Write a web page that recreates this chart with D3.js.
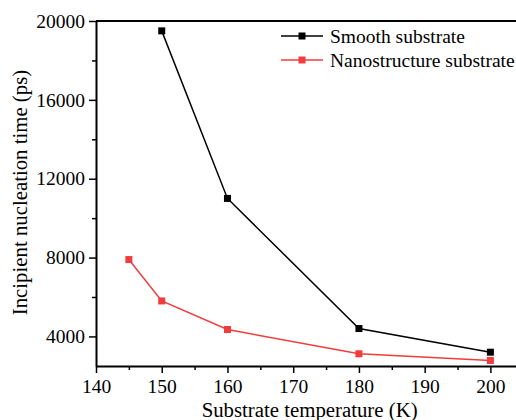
<!DOCTYPE html>
<html>
<head>
<meta charset="utf-8">
<script src="https://cdn.jsdelivr.net/npm/d3@7"></script>
<style>
  body { margin: 0; background: #fff; }
  svg { display: block; font-family: "Liberation Serif", "Times New Roman", serif; }
  .line { fill: none; stroke-width: 1.5; }
</style>
</head>
<body>
<div id="chart"></div>
<script>
// data
const smoothTemps = [150, 160, 180, 200];
const smoothTimes = [19500, 11000, 4400, 3200];
const nanoTemps = [145, 150, 160, 180, 200];
const nanoTimes = [7900, 5800, 4350, 3120, 2780];
const xTicks = [140, 150, 160, 170, 180, 190, 200];
const yTicks = [4000, 8000, 12000, 16000, 20000];
const seriesNames = ['Smooth substrate', 'Nanostructure substrate'];

const width = 516, height = 420;
const margin = { top: 21, right: -2, bottom: 54, left: 96 };
const graphWidth = width - margin.left - margin.right;
const graphHeight = height - margin.top - margin.bottom;

const svg = d3.select('#chart')
    .append('svg')
    .attr('width', width)
    .attr('height', height);

const chart = svg.append('g')
    .attr('transform', `translate(${margin.left}, ${margin.top})`);

// scales
const x = d3.scaleLinear()
    .domain([140, 204.2])
    .range([0, graphWidth]);

const y = d3.scaleLinear()
    .domain([2500, 20000])
    .range([graphHeight, 0]);

// minor ticks
const xMinor = d3.range(145, 205, 10);
const yMinor = d3.range(2000, 20000, 4000).filter(d => d >= 2500);

const xAxisGroup = chart.append('g')
    .attr('transform', `translate(0, ${graphHeight})`);
xAxisGroup.call(d3.axisBottom(x).tickValues(xTicks).tickSize(7).tickSizeOuter(0).tickPadding(6));
xAxisGroup.append('g')
    .call(d3.axisBottom(x).tickValues(xMinor).tickSize(4).tickFormat(''))
    .select('.domain').remove();

const yAxisGroup = chart.append('g');
yAxisGroup.call(d3.axisLeft(y).tickValues(yTicks).tickSize(7).tickSizeOuter(0).tickPadding(4).tickFormat(d3.format('d')));
yAxisGroup.append('g')
    .call(d3.axisLeft(y).tickValues(yMinor).tickSize(4).tickFormat(''))
    .select('.domain').remove();

// top border
chart.append('line')
    .attr('x1', 0).attr('x2', graphWidth)
    .attr('y1', 0).attr('y2', 0)
    .attr('stroke', '#000').attr('stroke-width', 2);

chart.selectAll('.domain').attr('stroke-width', 2);
chart.selectAll('.tick line').attr('stroke-width', 1.5);
chart.selectAll('.tick text')
    .attr('font-size', 19.5)
    .attr('font-family', '"Liberation Serif", serif')
    .attr('fill', '#000');

// axis titles
svg.append('text')
    .attr('x', margin.left + x(172.5))
    .attr('y', 417)
    .attr('text-anchor', 'middle')
    .attr('font-size', 20.8)
    .text('Substrate temperature (K)');

svg.append('text')
    .attr('transform', `translate(27, ${margin.top + y(11300)}) rotate(-90)`)
    .attr('text-anchor', 'middle')
    .attr('font-size', 20.8)
    .text('Incipient nucleation time (ps)');

// series
const series = [
    { name: seriesNames[0], color: '#000000', data: smoothTemps.map((t, i) => ({ t, v: smoothTimes[i] })) },
    { name: seriesNames[1], color: '#f03c3c', data: nanoTemps.map((t, i) => ({ t, v: nanoTimes[i] })) }
];

const line = d3.line()
    .x(d => x(d.t))
    .y(d => y(d.v));

series.forEach(s => {
    chart.append('path')
        .datum(s.data)
        .attr('class', 'line')
        .attr('stroke', s.color)
        .attr('d', line);

    chart.selectAll(null)
        .data(s.data)
        .enter()
        .append('rect')
        .attr('x', d => x(d.t) - 3.5)
        .attr('y', d => y(d.v) - 3.5)
        .attr('width', 7)
        .attr('height', 7)
        .attr('fill', s.color);
});

// legend
const legend = svg.append('g')
    .attr('transform', 'translate(281, 36)');

series.forEach((s, i) => {
    const row = legend.append('g')
        .attr('transform', `translate(0, ${i * 24})`);
    row.append('line')
        .attr('x1', 0).attr('x2', 42)
        .attr('stroke', s.color).attr('stroke-width', 1.5);
    row.append('rect')
        .attr('x', 17.5).attr('y', -3.5)
        .attr('width', 7).attr('height', 7)
        .attr('fill', s.color);
    row.append('text')
        .attr('x', 49)
        .attr('y', 6.5)
        .attr('font-size', 19.5)
        .text(s.name);
});
</script>
</body>
</html>
